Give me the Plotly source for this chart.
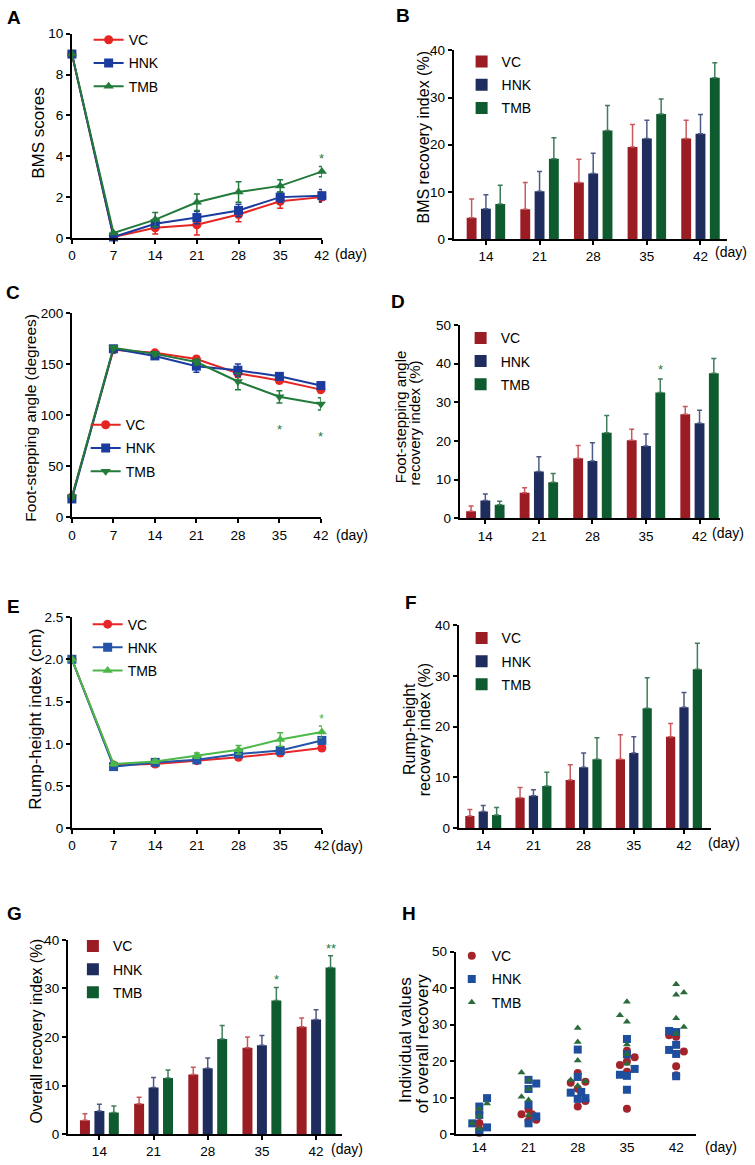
import plotly.graph_objects as go

W, H = 755, 1165
FONT = "Liberation Sans, Arial, sans-serif"

days = [0, 7, 14, 21, 28, 35, 42]
rec_days = ["14", "21", "28", "35", "42"]
groups = ["VC", "HNK", "TMB"]

# A: BMS scores (mean, SEM)
bms_vc = [9.0, 0.05, 0.5, 0.65, 1.15, 1.8, 2.0]
bms_hnk = [9.0, 0.05, 0.7, 1.0, 1.35, 2.0, 2.07]
bms_tmb = [9.0, 0.25, 0.9, 1.75, 2.25, 2.55, 3.25]
bms_vc_sd = [0, 0.05, 0.3, 0.5, 0.35, 0.35, 0.25]
bms_hnk_sd = [0, 0.05, 0.2, 0.3, 0.3, 0.25, 0.3]
bms_tmb_sd = [0, 0.05, 0.35, 0.4, 0.5, 0.3, 0.25]

# B: BMS recovery index (%)
bmsr_vc = [4.5, 6.3, 12.0, 19.5, 21.3]
bmsr_hnk = [6.4, 10.1, 13.9, 21.3, 22.3]
bmsr_tmb = [7.4, 17.0, 23.0, 26.5, 34.2]
bmsr_vc_sd = [4.0, 5.7, 4.9, 4.8, 3.9]
bmsr_hnk_sd = [3.0, 4.2, 4.3, 3.9, 4.1]
bmsr_tmb_sd = [4.0, 4.5, 5.3, 3.2, 3.2]

# C: foot-stepping angle (degrees)
fsa_vc = [20, 164, 161, 155, 141, 134, 125]
fsa_hnk = [18, 165, 158, 148, 144, 138, 129]
fsa_tmb = [20, 166, 160, 152, 133, 118, 111]
fsa_vc_sd = [2, 2, 2, 2, 4, 3, 3]
fsa_hnk_sd = [2, 2, 3, 6, 6, 3, 3]
fsa_tmb_sd = [2, 2, 2, 3, 8, 6, 6]

# D: foot-stepping angle recovery index (%)
fsar_vc = [1.8, 6.6, 15.5, 20.2, 26.9]
fsar_hnk = [4.6, 12.1, 14.8, 18.7, 24.6]
fsar_tmb = [3.5, 9.3, 22.1, 32.5, 37.5]
fsar_vc_sd = [1.4, 1.3, 3.3, 2.8, 2.0]
fsar_hnk_sd = [1.7, 3.8, 4.7, 3.1, 3.3]
fsar_tmb_sd = [0.9, 2.3, 4.5, 3.5, 3.8]

# E: rump-height index (cm)
rh_vc = [2.0, 0.75, 0.76, 0.80, 0.84, 0.89, 0.95]
rh_hnk = [2.0, 0.73, 0.78, 0.81, 0.88, 0.92, 1.04]
rh_tmb = [2.0, 0.76, 0.79, 0.86, 0.93, 1.05, 1.14]
rh_vc_sd = [0.01, 0.02, 0.02, 0.02, 0.03, 0.03, 0.03]
rh_hnk_sd = [0.01, 0.02, 0.02, 0.02, 0.03, 0.03, 0.04]
rh_tmb_sd = [0.01, 0.02, 0.02, 0.03, 0.05, 0.08, 0.07]

# F: rump-height recovery index (%)
rhr_vc = [2.4, 6.0, 9.5, 13.6, 18.0]
rhr_hnk = [3.3, 6.4, 12.0, 14.8, 23.8]
rhr_tmb = [2.6, 8.3, 13.6, 23.6, 31.3]
rhr_vc_sd = [1.3, 2.0, 3.0, 4.8, 2.6]
rhr_hnk_sd = [1.2, 1.2, 2.8, 3.2, 2.9]
rhr_tmb_sd = [1.5, 2.7, 4.2, 6.0, 5.1]

# G: overall recovery index (%)
ov_vc = [2.9, 6.3, 12.3, 17.8, 22.1]
ov_hnk = [4.8, 9.6, 13.6, 18.3, 23.6]
ov_tmb = [4.5, 11.6, 19.6, 27.5, 34.3]
ov_vc_sd = [1.3, 1.3, 1.5, 2.2, 1.8]
ov_hnk_sd = [1.4, 2.1, 2.1, 2.0, 2.0]
ov_tmb_sd = [1.3, 1.6, 2.8, 2.7, 2.4]

# H: individual values of overall recovery (day, value, horizontal offset in days)
ind_vc_day = [14, 14, 14, 14,
              21, 21, 21, 21, 21,
              28, 28, 28, 28, 28, 28,
              35, 35, 35, 35, 35, 35,
              42, 42, 42, 42, 42]
ind_vc_val = [3.1, 5.8, 1.4, 0.4,
              5.5, 6.8, 3.7, 4.0, 5.5,
              16.8, 14.1, 14.4, 12.5, 7.6, 9.1,
              22.9, 19.9, 21.1, 19.0, 17.1, 7.0,
              27.1, 26.7, 22.7, 18.6, 16.2]
ind_vc_dx = [0, 0, 0, 0,
             -1.0, 0, 0, 1.1, 0.5,
             0, -1.0, 1.1, 0, 0, 1.1,
             0, 0, 1.1, -1.0, 0, 0,
             -1.0, 0, 1.1, 0, 0]

ind_hnk_day = [14] * 6 + [21] * 6 + [28] * 6 + [35] * 6 + [42] * 6
ind_hnk_val = [3.0, 7.6, 5.3, 0.6, 9.9, 1.9,
               14.9, 12.4, 13.9, 8.1, 3.0, 4.9,
               23.2, 15.7, 11.4, 11.6, 9.7, 9.9,
               26.1, 21.9, 17.9, 16.3, 16.0, 12.2,
               28.3, 28.0, 24.5, 23.1, 22.0, 15.9]
ind_hnk_dx = [-1.0, 0, 0, 0, 1.1, 1.1,
              0, 0, 1.1, 0, 0, 1.1,
              0, 0, -1.0, 0.5, 0, 1.1,
              0, 0, 1.1, -1.0, 0, 0,
              -1.0, 0, 0, -1.0, 0, 0]

ind_tmb_day = [14] * 5 + [21] * 6 + [28] * 6 + [35] * 6 + [42] * 6
ind_tmb_val = [8.4, 7.0, 5.0, 3.0, 1.5,
               16.9, 10.3, 9.4, 5.2, 12.4, 14.9,
               29.1, 25.3, 20.2, 14.9, 14.5, 13.3,
               36.3, 32.6, 30.8, 24.6, 19.3, 21.9,
               41.1, 38.2, 38.8, 31.8, 29.4, 27.6]
ind_tmb_dx = [1.1, 0, 0, -1.0, 0,
              -1.0, -1.0, 0, 0, 0, 0,
              0, 0, 0, -1.0, 1.1, 0,
              0, -1.0, 0, 0, 0, 0,
              0, 0, 1.1, 0, 1.1, 0]

line_red, line_blue, line_green = "#e52521", "#1b3c9e", "#227a3b"
light_green = "#4cb848"
bar_colors = ["#9b1c23", "#1f2d5e", "#0f5b30"]
bar_err_colors = ["#c9595e", "#4c5a86", "#3f7d58"]
dot_colors = ["#a3252b", "#1e4f9e", "#2b6b3a"]


def fx(p):
    return p / W


def fy(p):
    return 1 - p / H


fig = go.Figure()

# panel boxes in pixels: x0, x1, ytop, ybottom
boxes = {
    1: (69, 323, 27, 234),
    2: (457, 735, 44, 235),
    3: (69, 322, 310, 517),
    4: (463, 728, 322, 518),
    5: (69, 323, 618, 832),
    6: (462, 718, 626, 832),
    7: (65, 343, 945, 1142),
    8: (459, 703, 957, 1142),
}
xranges = {1: [0, 42], 2: [-0.6, 4.5], 3: [0, 42], 4: [-0.48, 4.39],
           5: [0, 42], 6: [-0.49, 4.53], 7: [-0.58, 4.47], 8: [10.64, 44.8]}
yranges = {1: [0, 10], 2: [0, 40], 3: [0, 200], 4: [0, 50],
           5: [0, 2.5], 6: [0, 40], 7: [0, 40], 8: [0, 50]}
ydticks = {1: 2, 2: 10, 3: 50, 4: 10, 5: 0.5, 6: 10, 7: 10, 8: 10}

axis_style = dict(showline=True, linecolor="black", linewidth=2, ticks="outside",
                  ticklen=4, tickwidth=1.5, tickcolor="black", showgrid=False,
                  zeroline=False, tickfont=dict(family=FONT, size=13.5, color="black"))

layout_axes = {}
for i, (x0, x1, yt, yb) in boxes.items():
    sx = "" if i == 1 else str(i)
    xa = dict(axis_style, domain=[fx(x0), fx(x1)], range=xranges[i], anchor="y" + sx)
    ya = dict(axis_style, domain=[fy(yb), fy(yt)], range=yranges[i], anchor="x" + sx,
              dtick=ydticks[i], tick0=0)
    if i in (1, 3, 5):
        xa.update(tickmode="array", tickvals=days)
    elif i == 8:
        xa.update(tickmode="array", tickvals=[int(d) for d in rec_days], ticks="")
    else:
        xa.update(type="category")
    layout_axes["xaxis" + sx] = xa
    layout_axes["yaxis" + sx] = ya

layout_axes["yaxis5"].update(tickmode="array", tickvals=[0, 0.5, 1.0, 1.5, 2.0, 2.5],
                             ticktext=["0", "0.5", "1.0", "1.5", "2.0", "2.5"])


def add_lines(n, series, sds, colors, symbols):
    sx = "" if n == 1 else str(n)
    for g, y, sd, c, s in zip(groups, series, sds, colors, symbols):
        fig.add_trace(go.Scatter(
            x=days, y=y, name=g, mode="lines+markers",
            line=dict(color=c, width=2),
            marker=dict(symbol=s, size=9, color=c),
            error_y=dict(type="data", array=sd, color=c, thickness=1.5, width=3),
            xaxis="x" + sx, yaxis="y" + sx, cliponaxis=False,
            legend="legend" + sx, legendgroup=g + sx,
        ))


def add_bars(n, series, sds):
    sx = "" if n == 1 else str(n)
    for g, y, sd, c, ec in zip(groups, series, sds, bar_colors, bar_err_colors):
        fig.add_trace(go.Bar(
            x=rec_days, y=y, name=g, marker=dict(color=c, line=dict(width=0)),
            error_y=dict(type="data", array=sd, arrayminus=[0] * len(sd),
                         symmetric=False, color=ec, thickness=1.5, width=2.5),
            xaxis="x" + sx, yaxis="y" + sx, cliponaxis=False,
            legend="legend" + sx, legendgroup=g + sx,
        ))


add_lines(1, [bms_vc, bms_hnk, bms_tmb], [bms_vc_sd, bms_hnk_sd, bms_tmb_sd],
          [line_red, line_blue, line_green], ["circle", "square", "triangle-up"])
add_bars(2, [bmsr_vc, bmsr_hnk, bmsr_tmb], [bmsr_vc_sd, bmsr_hnk_sd, bmsr_tmb_sd])
add_lines(3, [fsa_vc, fsa_hnk, fsa_tmb], [fsa_vc_sd, fsa_hnk_sd, fsa_tmb_sd],
          [line_red, line_blue, line_green], ["circle", "square", "triangle-down"])
add_bars(4, [fsar_vc, fsar_hnk, fsar_tmb], [fsar_vc_sd, fsar_hnk_sd, fsar_tmb_sd])
add_lines(5, [rh_vc, rh_hnk, rh_tmb], [rh_vc_sd, rh_hnk_sd, rh_tmb_sd],
          ["#e8262a", "#2354a8", light_green], ["circle", "square", "triangle-up"])
add_bars(6, [rhr_vc, rhr_hnk, rhr_tmb], [rhr_vc_sd, rhr_hnk_sd, rhr_tmb_sd])
add_bars(7, [ov_vc, ov_hnk, ov_tmb], [ov_vc_sd, ov_hnk_sd, ov_tmb_sd])

for g, d, v, dx, c, s in zip(groups,
                             [ind_vc_day, ind_hnk_day, ind_tmb_day],
                             [ind_vc_val, ind_hnk_val, ind_tmb_val],
                             [ind_vc_dx, ind_hnk_dx, ind_tmb_dx],
                             dot_colors, ["circle", "square", "triangle-up"]):
    fig.add_trace(go.Scatter(
        x=[a + b for a, b in zip(d, dx)], y=v, name=g, mode="markers",
        marker=dict(symbol=s, size=8 if s != "triangle-up" else 7, color=c),
        xaxis="x8", yaxis="y8", cliponaxis=False,
        legend="legend8", legendgroup=g + "8",
    ))

# legends: left px, first item centre px (plotly puts the first item ~15.6px below the top)
legend_specs = {
    1: (86, 33), 2: (465, 55), 3: (83, 423), 4: (464, 335),
    5: (85, 625), 6: (465, 639), 7: (70, 951), 8: (455, 961),
}
layout_legends = {}
for i, (lx, ly) in legend_specs.items():
    sx = "" if i == 1 else str(i)
    layout_legends["legend" + sx] = dict(
        x=fx(lx), y=fy(ly - 15.6), xanchor="left", yanchor="top",
        bgcolor="rgba(0,0,0,0)", borderwidth=0, tracegroupgap=2,
        font=dict(family=FONT, size=14, color="black"), itemclick=False,
    )

annotations = []

# y axis titles: centre x, centre y, text, font size
ytitles = [
    (35, 127, "BMS scores", 17),
    (426, 132, "BMS recovery index (%)", 16),
    (27.5, 416, "Foot-stepping angle (degrees)", 15.5),
    (403, 415, "Foot-stepping angle", 15),
    (417.5, 421, "recovery index (%)", 15),
    (32.5, 721, "Rump-height index (cm)", 17),
    (412, 731, "Rump-height", 16),
    (427.5, 732, "recovery index (%)", 16),
    (33.5, 1037, "Overall recovery index (%)", 15.7),
    (408, 1047, "Individual values", 17),
    (425.5, 1050, "of overall recovery", 17),
]
for x, y, t, s in ytitles:
    annotations.append(dict(x=fx(x), y=fy(y), xref="paper", yref="paper", text=t,
                            textangle=-90, showarrow=False, xanchor="center",
                            yanchor="middle",
                            font=dict(family=FONT, size=s, color="black")))

# "(day)" labels
for x, y in [(334, 250), (720, 248), (335, 535), (717, 533),
             (330, 850), (713, 847), (330, 1157), (710, 1155)]:
    annotations.append(dict(x=fx(x), y=fy(y), xref="paper", yref="paper", text="(day)",
                            showarrow=False, xanchor="left", yanchor="middle",
                            font=dict(family=FONT, size=14, color="black")))

# panel letters
for x, y, t in [(1, 11, "A"), (396, 9, "B"), (0, 289, "C"), (391, 298, "D"),
                (1, 607, "E"), (405, 603, "F"), (1, 918, "G"), (402, 918, "H")]:
    annotations.append(dict(x=fx(x), y=fy(y), xref="paper", yref="paper",
                            text="<b>%s</b>" % t, showarrow=False, xanchor="left",
                            yanchor="middle",
                            font=dict(family=FONT, size=19, color="black")))

# significance marks
star_font = dict(family=FONT, size=13, color=line_green)
annotations.append(dict(x=42, y=bms_tmb[-1] + bms_tmb_sd[-1], xref="x", yref="y",
                        text="*", showarrow=False, yanchor="bottom", yshift=-2,
                        font=star_font))
for k in (5, 6):
    annotations.append(dict(x=days[k], y=fsa_tmb[k] - fsa_tmb_sd[k], xref="x3", yref="y3",
                            text="*", showarrow=False, yanchor="top", yshift=-17,
                            font=star_font))
annotations.append(dict(x=42, y=rh_tmb[-1] + rh_tmb_sd[-1], xref="x5", yref="y5",
                        text="*", showarrow=False, yanchor="bottom", yshift=-2,
                        font=dict(star_font, color=light_green)))
bargap = 0.2
tmb_off = (1 - bargap) / 3
annotations.append(dict(x=3 + tmb_off, y=fsar_tmb[3] + fsar_tmb_sd[3], xref="x4", yref="y4",
                        text="*", showarrow=False, yanchor="bottom", yshift=0,
                        font=star_font))
annotations.append(dict(x=3 + tmb_off, y=ov_tmb[3] + ov_tmb_sd[3], xref="x7", yref="y7",
                        text="*", showarrow=False, yanchor="bottom", yshift=-2,
                        font=star_font))
annotations.append(dict(x=4 + tmb_off, y=ov_tmb[4] + ov_tmb_sd[4], xref="x7", yref="y7",
                        text="**", showarrow=False, yanchor="bottom", yshift=-2,
                        font=star_font))

fig.update_layout(
    width=W, height=H, autosize=False,
    margin=dict(l=0, r=0, t=0, b=0),
    paper_bgcolor="white", plot_bgcolor="white",
    barmode="group", bargap=bargap, bargroupgap=0.31,
    font=dict(family=FONT, color="black"),
    annotations=annotations,
    **layout_axes, **layout_legends,
)

# drop the browser's default page margin so the figure sits at the window corner
fig.write_html("out.html", config={"displayModeBar": False},
               post_script="document.body.style.margin='0px';")
